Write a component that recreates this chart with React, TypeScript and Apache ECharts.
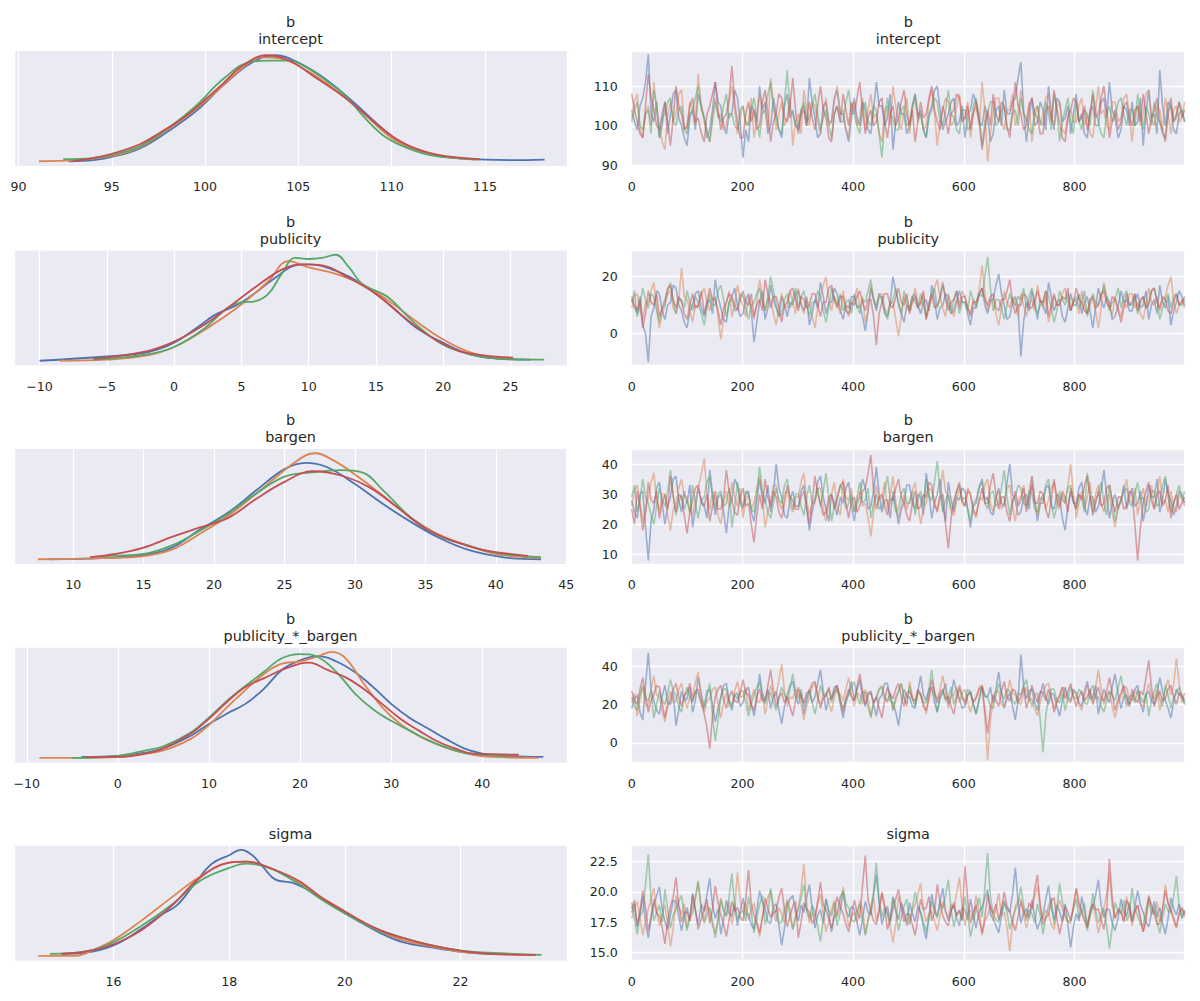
import React, { useEffect, useRef } from 'react';
import * as echarts from 'echarts';

// seaborn "deep" chain colours (chain 0..3)
const CHAIN_COLORS = ['#4C72B0', '#DD8452', '#55A868', '#C44E52'];
const BG = '#EAEAF2';
const TEXT = '#262626';
const FONT = 'DejaVu Sans';

const PANEL_TITLES = ['b\nintercept', 'b\npublicity', 'b\nbargen', 'b\npublicity_*_bargen', 'sigma'];

// axis ranges
const KDE_X_RANGE = [[89.76, 119.4], [-11.9, 29.2], [5.8, 45.05], [-11.4, 49.3], [14.28, 23.84]];
const KDE_X_STEP = [5, 5, 5, 10, 2];
const TRACE_Y_RANGE = [[89.9, 118.8], [-11.2, 29.2], [6.8, 45.0], [-10.3, 49.6], [14.31, 23.81]];
const TRACE_Y_STEP = [10, 20, 10, 20, 2.5];
const DRAW_MAX = 999;

// ---- KDE curves: [value, relative density] per chain (blue, orange, green, red)
const kdeIntercept = [
  [[92.7,0],[94,0.01],[95,0.04],[96.5,0.12],[98,0.28],[99.5,0.47],[101,0.72],[102.5,0.93],[103.8,1.0],[105,0.93],[106.5,0.77],[108,0.55],[109.5,0.31],[110.5,0.18],[112,0.07],[113.5,0.03],[115,0.015],[116.5,0.01],[118.2,0.015]],
  [[91.1,0],[93,0.01],[95,0.05],[96.5,0.13],[98,0.3],[99.5,0.49],[100.5,0.64],[102,0.88],[103,0.98],[104,0.97],[105.5,0.85],[107,0.67],[108.5,0.45],[110,0.22],[111.5,0.09],[113,0.04],[114.7,0.015]],
  [[92.4,0.02],[94,0.03],[95,0.06],[96.5,0.14],[98,0.31],[99.5,0.52],[101,0.78],[102.5,0.94],[103.5,0.95],[104.5,0.95],[105.3,0.9],[106.5,0.76],[107.5,0.62],[108.5,0.42],[109.5,0.25],[110.5,0.15],[112,0.06],[113.5,0.03],[114.7,0.02]],
  [[92.9,0],[94,0.03],[95,0.07],[96.5,0.16],[97.5,0.26],[99,0.43],[100,0.58],[101,0.74],[102,0.9],[103.3,1.0],[104.5,0.95],[106,0.78],[107.5,0.6],[109,0.38],[110,0.24],[111,0.14],[112.5,0.06],[114.7,0.02]],
];
const kdePublicity = [
  [[-10,0],[-5,0.04],[-2,0.08],[0,0.17],[2,0.34],[3,0.43],[5,0.55],[7.5,0.78],[9,0.9],[10,0.91],[12,0.85],[14,0.72],[16,0.53],[18,0.31],[20,0.17],[22,0.06],[24,0.02],[26.5,0.01]],
  [[-8.5,0],[-5,0.01],[-2,0.05],[0,0.13],[2.5,0.31],[5,0.53],[7,0.75],[8.5,0.94],[10,0.88],[12,0.82],[14,0.72],[16,0.56],[18,0.37],[20,0.2],[22,0.08],[24,0.03],[25.2,0.02]],
  [[-6,0.01],[-2,0.06],[0,0.13],[2,0.28],[4,0.5],[5,0.55],[6,0.56],[7,0.63],[8,0.82],[9,0.97],[10,0.96],[11,0.97],[12,1.0],[13,0.88],[14,0.72],[15,0.66],[16,0.59],[18,0.34],[20,0.15],[22,0.06],[24,0.02],[27.5,0.01]],
  [[-6,0.02],[-5,0.03],[-2,0.09],[0,0.18],[2,0.32],[4,0.5],[6,0.69],[8,0.86],[9.5,0.91],[11,0.9],[13,0.78],[15,0.63],[17,0.42],[19,0.23],[21,0.1],[23,0.05],[25.2,0.03]],
];
const kdeBargen = [
  [[8.3,0],[12,0.01],[15,0.04],[17,0.11],[19,0.28],[21,0.44],[23,0.65],[25,0.85],[26.5,0.91],[28,0.87],[30,0.71],[32,0.52],[34,0.35],[36,0.2],[38,0.09],[40,0.03],[41,0.01],[43.2,0]],
  [[7.5,0],[12,0.01],[15,0.03],[17,0.09],[19,0.24],[21,0.41],[23,0.62],[25,0.84],[26.5,0.98],[27.2,1.0],[28.5,0.93],[30,0.8],[32,0.6],[34,0.39],[36,0.23],[38,0.13],[40,0.05],[42,0.02],[43.2,0.01]],
  [[12,0.03],[15,0.05],[17,0.13],[19,0.27],[21,0.43],[23,0.62],[25,0.78],[27,0.82],[29,0.84],[30.5,0.82],[32,0.65],[34,0.39],[36,0.22],[38,0.13],[40,0.06],[42,0.03],[43.2,0.02]],
  [[11.2,0.02],[13,0.05],[15,0.11],[17,0.21],[19,0.3],[21,0.39],[23,0.57],[25,0.73],[27,0.83],[29,0.79],[31,0.68],[33,0.49],[35,0.29],[37,0.17],[39,0.09],[41,0.05],[42.3,0.03]],
];
const kdeInteraction = [
  [[-4,0.01],[0,0.02],[3,0.05],[5,0.09],[8,0.21],[10,0.32],[12,0.42],[14,0.51],[16,0.65],[18,0.83],[20,0.92],[22,0.96],[24,0.91],[26,0.81],[28,0.67],[30,0.51],[32,0.38],[34,0.28],[36,0.18],[38,0.09],[40,0.04],[42,0.02],[46.7,0.01]],
  [[-8.6,0],[-4,0],[0,0.01],[3,0.04],[5,0.07],[8,0.18],[10,0.31],[12,0.48],[14,0.64],[16,0.79],[18,0.89],[20,0.91],[22,0.96],[23.5,1.0],[25,0.94],[27,0.7],[29,0.48],[31,0.32],[33,0.21],[35,0.13],[37,0.07],[39,0.03],[41,0.01],[46.2,0]],
  [[-5,0],[0,0.02],[3,0.07],[5,0.11],[8,0.24],[10,0.38],[12,0.54],[14,0.68],[16,0.81],[18,0.94],[20,0.98],[22,0.95],[24,0.81],[26,0.61],[28,0.46],[30,0.35],[32,0.26],[34,0.17],[36,0.1],[38,0.05],[40,0.03],[43,0.02]],
  [[-3.5,0.01],[0,0.01],[3,0.04],[5,0.09],[8,0.23],[10,0.37],[12,0.53],[14,0.67],[16,0.75],[18,0.83],[20,0.89],[21,0.9],[23,0.83],[25,0.76],[27,0.65],[29,0.51],[31,0.37],[33,0.26],[35,0.16],[37,0.09],[39,0.04],[41,0.035],[44,0.03]],
];
const kdeSigma = [
  [[15.1,0.02],[15.5,0.03],[16,0.1],[16.5,0.26],[16.8,0.38],[17.1,0.48],[17.4,0.68],[17.7,0.87],[18,0.95],[18.2,1.0],[18.4,0.95],[18.6,0.83],[18.8,0.72],[19.1,0.69],[19.4,0.61],[19.8,0.47],[20.2,0.34],[20.6,0.22],[21,0.13],[21.5,0.08],[22,0.04],[22.5,0.02],[22.8,0.02]],
  [[14.7,0],[15.3,0],[15.5,0.02],[16,0.15],[16.5,0.34],[17,0.55],[17.5,0.75],[18,0.88],[18.3,0.89],[18.7,0.83],[19.2,0.69],[19.6,0.55],[20,0.42],[20.5,0.26],[21,0.15],[21.5,0.09],[22,0.04],[22.5,0.02],[23.3,0.01]],
  [[14.9,0.02],[15.5,0.04],[16,0.13],[16.5,0.29],[17,0.48],[17.5,0.71],[18,0.83],[18.3,0.87],[18.7,0.83],[19.2,0.68],[19.6,0.53],[20,0.4],[20.5,0.26],[21,0.17],[21.5,0.1],[22,0.05],[22.5,0.03],[23.4,0.01]],
  [[15.1,0.02],[15.5,0.04],[16,0.11],[16.5,0.25],[17,0.47],[17.5,0.74],[18,0.88],[18.3,0.89],[18.7,0.83],[19.2,0.71],[19.6,0.55],[20,0.42],[20.5,0.27],[21,0.17],[21.5,0.1],[22,0.05],[22.5,0.02],[23.3,0.01]],
];

// ---- trace values, every ~5th draw per chain (blue, orange, green, red)
const traceIntercept = [
  [104,101,99,105,107,111,118,103,101,106,97,100,106,98,103,108,109,102,100,97, 95,102,104,99,108,105,102,97,99,104,111,106,105,100,98,103,103,109,107,101, 92,99,96,105,104,101,110,104,106,98,100,107,103,99,97,105,108,102,104,100, 99,104,105,100,112,106,102,97,98,105,106,101,101,107,109,103,103,99,96,102, 107,102,100,106,104,99,98,104,111,105,105,100,102,108,94,101,106,103,103,98, 100,105,108,102,104,99,97,103,105,109,110,104,99,101,103,106,107,100,101,105, 97,103,104,108,106,101,100,105,102,96,98,104,105,100,109,103,103,106,107,112, 116,104,96,102,107,100,101,106,104,99,110,103,99,107,106,101,102,105,98,103, 108,101,103,98,97,104,105,100,100,106,107,102,111,104,102,97,99,105,104,100, 106,100,101,107,95,103,109,102,103,98,114,105,100,106,105,99,98,103,104,101],
  [102,106,108,99,97,103,105,100,111,104,100,96,94,103,106,101,103,108,109,100, 99,106,104,100,113,105,101,98,96,103,107,102,103,99,100,106,110,104,98,102, 105,100,101,107,97,102,108,103,104,99,112,105,99,103,106,100,102,107,95,101, 103,98,109,104,100,106,105,101,98,103,107,100,101,106,110,103,104,99,97,105, 106,100,102,107,99,104,108,102,103,98,96,104,105,100,110,105,101,99,104,107, 98,104,107,101,103,99,100,106,109,103,95,101,104,107,106,100,101,105,108,102, 102,106,97,103,105,100,111,104,91,98,103,107,107,101,99,104,104,108,100,103, 109,103,101,106,96,102,105,100,103,107,108,102,100,105,106,99,98,103,104,101, 101,105,107,100,103,98,97,104,110,103,104,100,99,106,106,101,102,107,108,103, 96,103,105,100,103,108,109,102,100,105,104,99,107,103,98,104,105,101,102,106],
  [101,104,106,100,99,103,104,98,109,105,97,102,103,106,107,101,100,104,105,99, 98,103,104,107,110,104,102,99,96,101,106,103,101,105,108,102,103,100,99,104, 105,101,100,104,107,102,97,103,104,108,111,105,102,99,98,106,114,104,103,100, 100,104,106,101,102,105,108,103,99,102,104,100,97,103,105,101,101,106,109,103, 103,100,98,104,106,101,100,105,104,98,92,101,107,103,102,99,99,104,105,100, 101,105,108,103,103,99,97,102,104,107,106,101,100,104,109,103,102,99,98,104, 104,99,100,105,107,102,95,101,103,106,106,100,101,104,105,99,99,103,104,100, 107,103,102,99,98,104,105,101,100,106,103,99,108,104,96,101,104,107,101,98, 106,101,99,104,103,100,109,104,101,98,97,103,105,101,102,106,107,103,100,104, 104,100,108,103,99,105,103,100,106,102,101,98,97,104,105,101,102,106,104,101],
  [108,104,101,98,97,105,113,107,104,100,99,103,106,101,95,102,110,105,103,99, 100,105,107,101,102,98,96,103,105,108,111,104,99,102,103,107,115,106,101,97, 97,103,106,101,104,99,100,106,109,103,96,101,103,108,107,102,101,105,112,104, 98,103,104,100,106,102,99,105,110,104,102,97,96,103,105,101,108,104,100,106, 103,107,111,104,98,102,104,100,101,106,107,101,97,103,105,100,102,106,109,103, 100,104,96,101,106,102,103,107,110,104,101,99,105,102,98,103,104,108,107,101, 102,105,99,103,106,101,94,99,104,100,108,103,101,106,105,100,97,104,111,105, 103,99,100,105,107,103,102,98,98,104,105,101,109,104,101,97,96,102,104,107, 106,101,102,105,99,103,108,102,103,107,110,104,97,101,104,99,101,105,106,102, 100,104,105,101,108,103,98,102,104,107,101,99,96,103,107,101,103,106,102,104],
];
const tracePublicity = [
  [12,9,7,13,3,0,-10,6,9,15,14,8,5,10,11,17,16,10,8,4, 2,8,10,14,15,9,6,11,12,7,19,13,9,5,4,11,13,16,10,6, 7,12,14,8,-3,4,11,15,5,9,17,12,9,6,13,10,6,11,10,14, 15,10,8,13,3,7,12,9,18,13,7,11,11,16,14,8,5,10,9,13, 13,9,10,6,1,8,16,12,8,14,12,7,6,11,20,15,11,7,4,10, 9,13,14,10,7,11,12,8,17,12,5,9,10,14,13,7,8,12,15,11, 11,7,3,9,9,14,16,10,7,12,12,17,21,14,10,5,6,11,13,9, -8,4,11,8,15,10,5,12,10,7,18,13,8,11,12,6,4,9,14,10, 10,14,7,11,13,8,2,9,16,12,9,13,11,5,6,10,15,11,12,8, 8,12,14,9,10,15,5,10,12,7,17,11,9,13,3,8,11,15,13,10],
  [9,13,14,8,5,11,11,15,18,10,2,7,10,14,15,9,7,12,23,13, 12,8,4,10,9,14,16,11,8,12,13,6,-2,5,11,15,6,10,17,12, 10,6,13,9,5,11,19,13,8,12,12,7,3,9,14,10,9,15,11,7, 16,11,7,12,10,6,2,9,13,17,20,12,8,13,11,7,15,10,6,11, 12,16,9,13,4,8,17,12,10,14,14,9,7,11,11,5,-1,6,13,9, 8,12,16,11,10,14,5,9,12,16,19,13,9,6,14,10,6,11,11,15, 13,9,7,12,10,16,24,14,8,11,12,7,3,9,15,11,9,13,11,6, 14,10,6,11,12,8,17,12,9,13,4,8,13,10,10,14,16,11,8,12, 11,7,15,10,7,12,12,8,2,9,18,13,10,6,13,9,6,11,9,14, 14,9,11,7,5,10,16,11,10,13,8,12,13,17,20,12,7,10,12,9],
  [11,15,6,10,16,12,9,14,13,8,4,9,10,15,18,11,7,12,12,9, 15,11,8,13,11,7,3,9,14,10,10,15,17,12,6,11,12,8,9,14, 13,9,5,10,11,14,16,11,8,13,20,15,10,6,7,12,14,9,12,16, 9,13,15,10,6,11,11,15,13,8,4,9,16,12,10,14,8,11,12,7, 14,10,7,12,11,15,19,12,9,13,13,8,5,10,12,16,10,7,15,11, 8,13,11,9,14,10,6,11,13,16,9,12,17,13,10,7,12,15,7,11, 11,8,15,12,9,14,13,20,27,16,8,12,12,9,5,10,14,11,10,13, 12,16,9,13,16,11,7,10,11,15,13,9,4,8,15,12,10,14,8,11, 13,9,11,15,6,10,14,11,10,13,17,12,8,11,12,16,9,13,15,10, 10,14,7,11,13,9,11,15,16,12,5,9,12,14,9,13,14,10,10,12],
  [13,10,8,12,2,7,15,11,10,14,6,9,12,16,17,12,9,13,11,7, 5,10,14,9,10,15,7,11,16,12,12,8,3,9,11,14,13,10,8,12, 15,11,10,14,6,10,12,8,19,14,9,13,13,9,4,10,11,15,16,12, 8,13,12,9,10,14,14,10,6,11,11,16,17,12,9,13,13,8,7,11, 10,13,15,11,8,12,12,6,-4,7,11,14,14,10,9,13,16,11,10,14, 7,11,13,9,11,15,5,10,14,9,10,13,18,12,8,11,12,15,9,13, 13,9,6,11,11,14,16,12,10,13,14,9,8,12,12,15,19,11,7,10, 10,14,13,9,9,12,15,11,11,15,6,10,14,10,10,13,12,16,8,11, 16,12,11,8,7,12,13,9,10,14,15,11,9,13,12,8,4,9,14,10, 11,14,8,12,13,9,10,15,16,11,9,13,12,8,7,11,14,10,11,13],
];
const traceBargen = [
  [28,24,22,30,31,19,8,21,25,32,34,27,20,26,29,35,36,28,24,31, 27,33,19,25,32,28,26,22,38,30,23,29,30,24,17,26,28,35,33,27, 25,30,31,24,21,28,35,29,27,33,24,30,40,32,29,23,22,28,31,26, 26,31,33,25,18,24,28,34,36,29,25,21,30,27,23,29,27,32,34,26, 21,27,29,35,32,25,26,31,39,30,24,28,28,22,31,26,20,25,27,33, 33,27,25,30,29,23,37,30,22,27,30,35,26,21,34,28,24,29,28,32, 31,25,19,26,27,32,35,28,29,24,23,29,32,27,26,34,40,30,28,23, 24,29,30,25,36,28,21,27,27,32,33,26,25,30,29,22,18,26,31,27, 27,32,34,26,23,29,29,24,26,31,38,30,22,27,30,25,28,33,25,29, 32,26,27,31,21,26,33,29,29,35,24,28,35,30,28,23,26,31,30,27],
  [26,31,33,27,21,25,29,34,37,28,24,30,30,23,18,25,27,32,35,29, 29,24,23,28,32,37,42,30,25,31,28,23,20,27,31,26,34,29,26,32, 22,28,30,25,27,32,36,29,19,24,28,33,33,27,25,30,31,26,24,29, 29,34,37,28,23,27,27,32,32,25,21,27,30,34,26,23,35,29,28,32, 24,28,31,26,27,22,16,24,33,28,29,34,25,30,36,27,22,26,30,25, 28,31,34,27,20,25,27,32,31,26,25,30,38,31,29,24,23,28,32,27, 26,32,30,24,22,29,28,33,35,27,24,29,31,25,27,32,33,26,21,28, 29,33,26,31,36,28,23,27,30,25,28,32,34,27,25,30,27,33,40,30, 22,27,31,25,29,34,26,30,33,27,24,29,30,24,19,26,28,31,35,28, 27,32,23,28,32,26,29,33,25,30,36,27,28,24,31,26,24,30,29,26],
  [29,33,24,28,35,29,27,23,20,26,32,28,26,31,38,30,23,27,30,25, 28,24,33,27,22,28,29,34,36,29,25,30,31,26,27,32,19,25,34,28, 26,31,30,25,24,30,39,31,28,24,22,27,32,28,27,33,35,29,25,30, 30,26,23,29,33,27,28,32,26,31,37,29,21,26,29,33,31,25,27,30, 24,29,34,27,28,32,22,27,30,25,26,31,36,28,29,24,25,30,32,27, 27,31,23,28,31,26,35,29,28,34,41,31,24,28,30,25,26,31,33,28, 29,25,21,27,28,33,34,27,25,30,31,26,27,32,38,29,23,28,29,33, 32,27,26,31,30,25,24,29,28,33,35,27,22,26,31,28,27,32,33,28, 25,30,29,24,37,30,24,28,30,34,27,23,33,28,21,26,28,31,32,27, 26,30,34,28,29,24,25,31,31,26,27,33,36,29,24,27,30,33,28,31],
  [25,20,31,26,18,24,34,28,27,31,22,27,30,25,36,29,24,30,29,23, 17,24,28,32,33,27,26,30,21,26,31,25,25,29,38,31,28,24,23,29, 32,26,27,20,14,23,30,25,35,29,26,31,29,24,22,27,33,29,28,25, 25,29,31,26,20,27,36,30,27,23,24,29,30,25,28,33,34,27,22,28, 29,24,26,31,32,37,43,31,25,29,30,26,23,28,28,32,35,29,27,23, 21,27,31,25,26,30,29,34,33,27,24,29,30,20,12,22,28,31,34,28, 26,31,30,25,23,28,32,27,27,33,37,30,25,29,29,24,21,27,31,26, 28,32,24,29,33,27,27,31,30,25,22,28,35,29,26,31,29,24,32,28, 25,30,28,33,36,29,23,27,31,26,27,32,33,28,24,29,29,25,26,31, 30,20,8,19,27,31,34,28,25,30,31,26,28,33,22,27,30,25,27,29],
];
const traceInteraction = [
  [18,23,25,16,12,30,47,28,22,17,15,24,30,21,20,26,9,17,27,22, 23,29,16,22,34,25,19,27,28,20,11,18,24,30,31,22,17,25,26,19, 21,27,29,20,14,23,36,26,22,28,18,24,27,17,10,19,25,30,32,24, 20,26,15,22,28,21,24,31,38,27,17,23,23,29,30,20,13,21,26,32, 22,28,33,24,19,26,27,20,14,23,25,31,31,22,21,16,9,20,28,24, 24,19,18,27,35,25,22,28,29,21,16,24,26,31,20,25,33,27,23,18, 19,25,27,21,15,23,30,24,24,29,21,28,37,26,18,23,26,19,12,22, 46,30,23,27,28,21,17,25,31,24,20,26,25,19,14,22,29,24,22,28, 26,21,19,27,32,23,24,30,15,22,28,24,21,29,36,25,18,24,25,20, 23,28,30,21,16,25,27,22,20,26,34,27,22,18,13,21,28,25,24,20],
  [21,26,14,23,29,20,19,28,35,25,24,17,11,22,27,21,22,28,31,24, 18,24,25,31,37,24,16,22,23,28,29,20,13,21,26,19,20,27,32,24, 24,29,17,23,28,22,21,26,15,22,30,24,25,33,41,27,19,24,23,28, 27,20,12,19,24,29,31,23,20,25,26,21,16,24,29,25,22,28,34,25, 19,26,25,20,28,23,14,21,23,28,30,24,21,26,17,22,27,31,24,19, 32,24,20,27,26,21,15,23,29,25,23,28,35,27,18,24,25,29,21,26, 28,21,16,22,24,29,30,14,-9,12,22,27,27,20,19,25,33,26,25,21, 20,26,29,22,23,18,14,21,26,30,31,24,18,23,24,29,28,22,21,27, 25,20,17,24,30,26,22,29,38,28,20,25,27,19,13,21,24,29,29,23, 22,27,26,20,19,25,31,24,23,28,17,23,28,33,25,30,44,31,21,26],
  [24,19,17,25,30,23,22,27,13,20,27,22,20,26,33,27,25,19,16,23, 29,24,21,27,26,20,18,24,31,14,1,12,24,28,28,22,19,25,23,27, 27,21,14,20,25,29,32,24,20,26,26,21,17,23,29,25,22,28,36,27, 23,28,19,24,27,21,15,22,30,25,24,28,21,26,28,22,18,23,25,29, 32,25,20,27,26,19,13,21,24,28,29,23,22,26,17,24,27,31,23,20, 30,23,19,26,25,21,21,28,38,26,16,23,27,22,24,29,20,25,28,23, 22,28,26,20,15,23,29,25,24,19,18,25,31,26,23,28,27,22,20,26, 25,30,33,24,19,25,26,12,-5,14,24,28,28,22,21,26,17,23,29,24, 23,28,26,21,20,27,30,23,24,19,16,22,27,25,22,29,35,26,19,24, 25,21,28,24,21,26,14,22,27,31,23,19,30,25,18,24,26,29,24,21],
  [27,22,20,28,34,25,16,22,25,30,29,21,13,19,23,28,31,24,19,25, 26,31,22,27,28,21,15,8,-3,14,24,28,30,23,18,24,27,22,21,26, 33,26,25,20,17,24,28,22,22,30,38,27,19,24,26,21,24,19,14,22, 29,24,21,26,27,31,32,25,18,23,25,29,23,27,30,22,16,23,28,24, 22,29,36,27,20,25,26,21,24,18,13,22,29,25,23,28,31,24,19,26, 27,23,22,28,25,19,17,24,33,27,21,26,28,23,24,19,15,23,30,25, 20,25,26,21,23,28,29,17,5,18,25,22,19,27,32,24,22,28,27,21, 24,29,18,23,30,25,21,27,26,22,28,24,16,21,25,29,23,27,31,24, 19,24,27,22,24,28,20,25,29,23,22,27,34,26,17,23,26,30,23,19, 28,23,21,27,25,34,43,29,19,24,27,22,23,28,30,24,20,26,25,22],
];
const traceSigma = [
  [18.3,19.0,17.1,18.2,19.6,17.4,16.2,17.8,18.9,19.7,20.4,18.6,17.5,16.9,18.1,19.3,19.2,18.0,16.8,17.9, 18.7,17.6,19.9,18.5,17.3,19.0,18.4,19.8,21.1,18.9,17.8,18.6,16.5,17.7,19.3,18.2,18.0,19.1,17.2,18.4, 19.5,18.1,18.2,17.3,16.9,18.4,20.1,19.2,18.6,17.5,17.4,18.8,19.0,17.2,15.6,17.0,18.8,19.4,19.7,18.3, 17.6,18.9,18.3,19.5,20.6,18.7,17.0,18.1,18.5,17.4,19.4,18.2,16.7,17.9,18.2,19.6,20.0,18.5,17.9,18.8, 18.6,17.5,16.4,17.8,19.2,18.3,18.1,19.7,21.4,19.0,17.3,18.2,18.8,17.6,19.6,18.4,17.7,19.1,18.4,17.2, 19.1,18.2,17.5,18.8,18.3,17.1,16.1,17.9,19.8,18.6,18.0,19.2,20.3,18.4,17.6,18.5,18.9,17.8,17.2,18.7, 18.5,17.7,19.4,18.2,17.0,18.4,18.7,19.5,20.2,18.1,17.8,17.2,16.6,18.0,19.1,18.6,18.3,19.8,22.0,19.2, 17.4,18.3,18.6,17.8,19.3,18.0,16.9,17.6,18.1,19.4,20.5,18.7,17.7,18.9,18.4,17.5,19.0,17.3,15.4,17.1, 18.2,17.6,19.6,18.4,17.3,18.1,18.8,19.7,21.0,18.9,17.9,18.6,18.5,17.4,16.8,17.9,19.4,18.3,18.0,19.1, 17.6,18.8,20.1,18.9,18.3,17.5,17.1,18.2,19.2,17.9,18.7,17.4,16.5,17.8,19.5,18.6,18.1,19.0,17.8,18.4],
  [17.8,18.7,19.2,17.9,16.4,17.5,18.6,19.4,20.3,18.5,17.2,18.1,18.9,17.3,15.5,17.0,19.7,18.8,18.1,19.0, 17.0,18.2,18.7,19.6,20.8,18.4,17.6,18.9,18.3,17.2,16.6,17.8,19.5,18.5,18.0,19.2,17.3,18.6,21.6,19.3, 18.4,19.1,17.7,18.5,19.1,17.6,16.3,17.9,18.8,19.5,20.1,18.3,17.5,18.7,18.2,17.4,19.4,18.6,16.9,18.0, 18.6,20.2,22.3,19.0,17.4,18.3,18.0,19.1,19.8,18.2,16.7,17.6,18.5,19.3,17.9,18.8,20.4,18.5,17.1,17.9, 18.3,17.4,19.3,18.6,16.5,17.8,18.7,19.5,17.6,18.4,20.0,18.9,18.2,17.1,15.8,17.3,19.6,18.7,18.1,17.6, 17.3,18.5,18.9,19.8,20.7,18.6,17.5,18.2,18.4,17.6,16.8,18.0,19.2,18.3,17.9,19.0,18.6,19.9,21.2,18.7, 17.2,18.3,18.5,17.7,19.7,18.4,16.4,17.5,18.1,18.9,17.6,18.6,19.9,18.0,18.3,17.1,15.1,17.4,18.8,19.3, 19.4,18.1,17.0,18.0,18.6,19.6,20.5,18.8,17.7,18.5,18.2,17.3,16.9,18.4,19.3,18.6,18.0,17.5,17.4,18.9, 20.2,18.7,18.5,17.8,17.1,18.6,19.0,17.9,16.6,17.7,18.7,19.8,21.5,18.9,17.8,18.4,18.3,17.6,19.6,18.5, 17.2,18.3,18.9,17.8,16.7,17.9,19.4,18.6,18.1,19.2,17.5,18.4,20.6,19.1,18.4,17.6,17.0,18.2,18.6,17.9],
  [19.1,17.8,16.5,18.0,18.4,20.6,23.1,19.4,17.6,18.3,18.9,17.5,20.2,18.6,17.0,18.1,18.5,19.2,19.7,18.0, 16.8,17.9,18.2,19.4,20.9,18.5,17.4,18.1,18.7,17.6,16.2,17.7,19.3,18.4,18.0,19.6,21.5,18.8,17.7,18.3, 18.4,17.6,19.6,18.3,16.6,17.9,18.9,19.7,17.3,18.2,20.3,18.8,18.1,17.4,17.5,18.6,19.2,18.0,16.9,17.8, 18.6,19.5,20.6,18.4,17.8,18.9,18.3,17.1,15.9,17.6,19.4,18.5,18.0,19.1,17.2,18.3,20.1,19.0,18.7,17.7, 17.5,18.4,19.0,17.8,16.4,17.6,18.5,20.1,22.4,19.3,17.9,18.7,18.2,17.3,19.5,18.6,16.8,17.9,18.8,19.4, 17.4,18.6,20.0,18.9,18.3,17.5,16.7,17.9,19.2,18.4,17.8,19.1,18.6,19.7,21.0,18.5,17.1,18.2,18.4,17.6, 19.6,18.2,16.3,17.4,18.7,19.5,17.9,20.4,23.2,19.6,18.1,17.7,17.5,18.6,19.3,18.3,16.9,17.8,18.5,19.0, 20.4,18.9,17.6,18.5,18.2,17.4,19.0,18.1,16.5,17.8,18.8,19.5,17.3,18.6,20.7,19.2,18.0,17.5,17.7,18.6, 19.4,17.9,18.3,19.1,16.8,18.0,19.9,18.5,17.4,18.2,18.6,17.2,15.3,17.0,19.1,18.4,18.2,19.3,17.6,18.1, 20.3,18.6,18.0,17.3,17.2,18.5,19.5,18.1,18.7,17.6,16.6,17.9,19.0,18.4,18.3,19.6,21.3,18.8,17.9,18.5],
  [18.6,19.3,17.2,18.4,20.1,18.7,16.8,17.9,19.4,18.2,18.0,17.1,15.7,17.6,18.8,19.6,21.2,18.9,17.5,18.3, 18.3,17.6,19.7,18.5,16.9,17.8,18.5,19.4,17.4,18.6,20.5,19.1,18.1,17.3,16.3,17.7,19.2,18.4,18.7,17.9, 17.6,19.4,21.8,19.0,18.0,17.4,16.6,17.8,19.5,18.6,17.9,18.3,18.4,19.6,20.3,18.5,17.1,18.0,18.8,19.2, 16.2,17.5,19.1,18.6,18.3,17.4,17.7,19.2,20.8,18.9,18.5,17.8,17.0,18.2,19.6,18.7,18.2,17.3,16.7,17.9, 19.3,18.4,17.8,20.5,23.0,19.3,18.4,17.6,17.3,18.5,19.9,18.7,16.9,17.7,18.6,19.4,20.2,18.8,17.5,18.2, 18.1,17.3,16.4,17.8,19.4,18.5,18.7,19.6,17.6,18.3,20.6,19.2,18.0,17.5,17.2,18.4,19.1,18.0,18.5,17.7, 22.1,19.3,17.4,18.2,18.9,17.6,16.6,17.9,19.8,18.7,18.2,19.0,17.7,18.5,20.0,18.8,18.4,17.5,16.8,17.9, 19.2,18.4,17.9,19.1,18.6,20.2,21.4,18.9,17.3,17.9,18.1,19.3,19.5,17.8,16.5,17.6,18.8,18.3,17.6,18.7, 20.3,19.1,18.3,17.6,17.0,18.2,19.0,18.5,18.6,17.7,16.9,18.4,22.7,19.5,17.8,18.6,18.4,17.5,19.3,18.8, 17.5,18.4,18.9,17.8,16.7,17.6,19.7,18.9,18.2,17.3,17.4,18.6,20.1,19.0,18.5,17.9,17.1,18.3,18.7,18.1],
];

const KDES = [kdeIntercept, kdePublicity, kdeBargen, kdeInteraction, kdeSigma];
const TRACES = [traceIntercept, tracePublicity, traceBargen, traceInteraction, traceSigma];

// layout (px)
const GRID_TOPS = [51, 250.5, 449, 647.7, 845.7];
const PLOT_H = 115;
const PLOT_W = 553;
const LEFT_X = 14;
const RIGHT_X = 631.7;

const minusFmt = (v: number) => (v < 0 ? '\u2212' + Math.abs(v) : String(v));

const labelStyle = (formatter: any, showMin = false) => ({
  color: TEXT,
  fontFamily: FONT,
  fontSize: 12.6,
  margin: 14,
  showMinLabel: showMin,
  showMaxLabel: false,
  formatter,
});

const gridLines = { show: true, lineStyle: { color: '#ffffff', width: 1.3 } };

const buildOption = () => {
  const grid: any[] = [];
  const xAxis: any[] = [];
  const yAxis: any[] = [];
  const series: any[] = [];
  const title: any[] = [];

  PANEL_TITLES.forEach((name, r) => {
    const top = GRID_TOPS[r];
    const twoLines = name.includes('\n');
    const titleTop = twoLines ? top - 37.5 : top - 20.5;
    [LEFT_X, RIGHT_X].forEach((left) => {
      grid.push({ left, top, width: PLOT_W, height: PLOT_H, show: true, backgroundColor: BG, borderWidth: 0 });
      title.push({
        text: name,
        left: left + PLOT_W / 2,
        top: titleTop,
        textAlign: 'center',
        padding: 0,
        textStyle: { fontFamily: FONT, fontSize: 14.4, fontWeight: 'normal', color: TEXT, lineHeight: 17 },
      });
    });

    const kIdx = r * 2;
    const tIdx = r * 2 + 1;

    // density panel
    xAxis.push({
      type: 'value', gridIndex: kIdx,
      min: KDE_X_RANGE[r][0], max: KDE_X_RANGE[r][1],
      minInterval: KDE_X_STEP[r], maxInterval: KDE_X_STEP[r],
      axisLine: { show: false }, axisTick: { show: false },
      splitLine: gridLines,
      axisLabel: labelStyle(minusFmt),
    });
    yAxis.push({ type: 'value', gridIndex: kIdx, min: -0.045, max: 1.04, show: false });

    // trace panel
    xAxis.push({
      type: 'value', gridIndex: tIdx,
      min: 0, max: DRAW_MAX,
      minInterval: 200, maxInterval: 200,
      axisLine: { show: false }, axisTick: { show: false },
      splitLine: gridLines,
      axisLabel: labelStyle(minusFmt, true),
    });
    yAxis.push({
      type: 'value', gridIndex: tIdx,
      min: TRACE_Y_RANGE[r][0], max: TRACE_Y_RANGE[r][1],
      minInterval: TRACE_Y_STEP[r], maxInterval: TRACE_Y_STEP[r],
      axisLine: { show: false }, axisTick: { show: false },
      splitLine: gridLines,
      axisLabel: labelStyle(r === 4 ? (v: number) => v.toFixed(1) : minusFmt),
    });

    KDES[r].forEach((chain, c) => {
      series.push({
        type: 'line', xAxisIndex: kIdx, yAxisIndex: kIdx,
        data: chain, smooth: 0.4, showSymbol: false, silent: true,
        lineStyle: { width: 1.8, color: CHAIN_COLORS[c] },
        itemStyle: { color: CHAIN_COLORS[c] },
      });
    });
    TRACES[r].forEach((vals, c) => {
      const n = vals.length;
      series.push({
        type: 'line', xAxisIndex: tIdx, yAxisIndex: tIdx,
        data: vals.map((v, i) => [Math.round((i * DRAW_MAX) / (n - 1)), v]),
        showSymbol: false, silent: true,
        lineStyle: { width: 1.6, color: CHAIN_COLORS[c], opacity: 0.5 },
        itemStyle: { color: CHAIN_COLORS[c] },
      });
    });
  });

  return { animation: false, backgroundColor: '#ffffff', title, grid, xAxis, yAxis, series };
};

const App: React.FC = () => {
  const chartRef = useRef<HTMLDivElement>(null);

  useEffect(() => {
    if (!chartRef.current) return;
    const chart = echarts.init(chartRef.current, null, { renderer: 'svg' });
    chart.setOption(buildOption());
    return () => {
      chart.dispose();
    };
  }, []);

  return (
    <div
      ref={chartRef}
      style={{ position: 'absolute', left: 0, top: 0, width: 1200, height: 1001 }}
    />
  );
};

export default App;
